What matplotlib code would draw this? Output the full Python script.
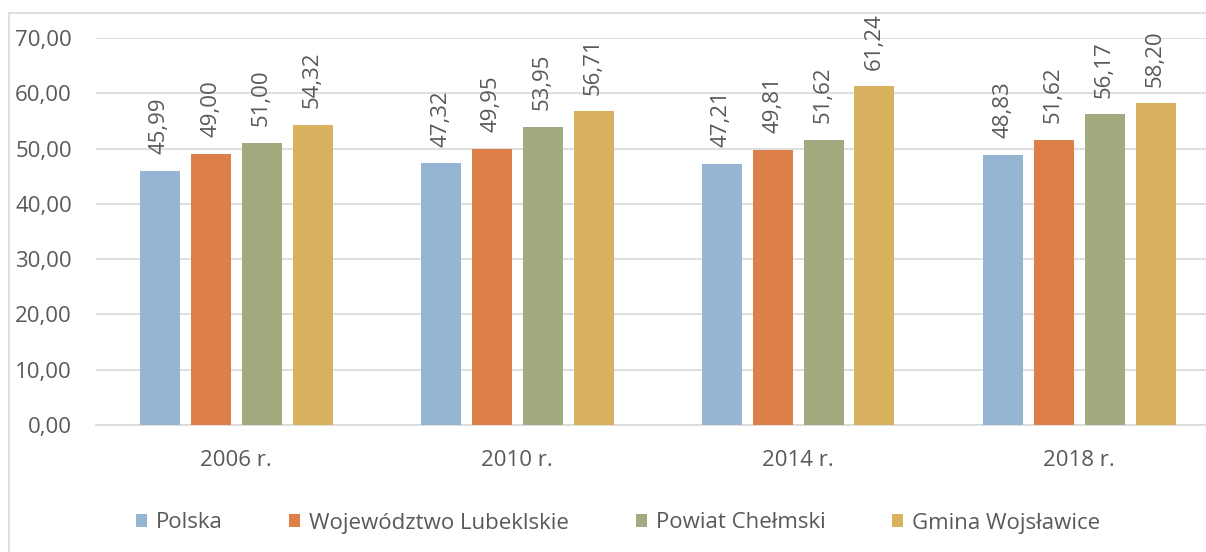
"""
Frekwencja wyborcza - wykres słupkowy
"""

import numpy as np
import matplotlib
matplotlib.use('Agg')
import matplotlib.pyplot as plt
import matplotlib.patches as mpatches

#---------------------------------------------------------------------------------------------------
# Data
#---------------------------------------------------------------------------------------------------

years = ['2006 r.', '2010 r.', '2014 r.', '2018 r.']
series_names = ['Polska', 'Województwo Lubeklskie', 'Powiat Chełmski', 'Gmina Wojsławice']
polska = [45.99, 47.32, 47.21, 48.83]
lubelskie = [49.00, 49.95, 49.81, 51.62]
chelmski = [51.00, 53.95, 51.62, 56.17]
wojslawice = [54.32, 56.71, 61.24, 58.20]
yticks = [0, 10, 20, 30, 40, 50, 60, 70]

colors = ['#95b5d3', '#dd7f48', '#a4aa7f', '#d8b25e']
text_color = '#595959'
grid_color = '#d9d9d9'

#---------------------------------------------------------------------------------------------------
# Plot
#---------------------------------------------------------------------------------------------------

plt.rcParams['font.family'] = ['Open Sans', 'DejaVu Sans']
fontsize = 16

fig = plt.figure(figsize=(12.06, 5.52), dpi=100)

# chart frame (cropped on right and bottom)
W, H = 1206, 552
frame = mpatches.Rectangle((9 / W, -0.1), 1.2, 1 - 13 / H + 0.1, transform=fig.transFigure,
                           fill=False, edgecolor=grid_color, linewidth=1.2)
fig.patches.append(frame)

# axes: x from 95.5 px to 1219.5 px, y from 38 px to 425 px
ax = fig.add_axes([95.5 / W, 1 - 425 / H, (1219.5 - 95.5) / W, (425 - 38) / H])

x = np.arange(len(years))
width = 40 / 281
step = 51 / 281
all_series = [polska, lubelskie, chelmski, wojslawice]
for i, (vals, name, c) in enumerate(zip(all_series, series_names, colors)):
    pos = x + (i - 1.5) * step
    bars = ax.bar(pos, vals, width=width, color=c, label=name, zorder=3)
    for p, v in zip(pos, vals):
        ax.annotate(f"{v:.2f}".replace('.', ','), (p, v), xytext=(0, 12), textcoords='offset points',
                    rotation=90, ha='center', va='bottom', color=text_color, fontsize=fontsize)

ax.set_xlim(-0.5, len(years) - 0.5)
ax.set_ylim(0, 70)
ax.set_yticks(yticks)
ax.set_yticklabels([f"{t:.2f}".replace('.', ',') for t in yticks])
ax.set_xticks(x)
ax.set_xticklabels(years)
ax.tick_params(axis='both', length=0, labelsize=fontsize, labelcolor=text_color)
ax.tick_params(axis='y', pad=17)
ax.tick_params(axis='x', pad=18)

ax.grid(axis='y', color=grid_color, linewidth=1.2, zorder=0)
for s in ['top', 'right', 'left']:
    ax.spines[s].set_visible(False)
ax.spines['bottom'].set_color(grid_color)
ax.spines['bottom'].set_linewidth(1.2)

fig.legend(loc='center', bbox_to_anchor=(618 / W, 1 - 523 / H), ncols=4, frameon=False,
           fontsize=fontsize, labelcolor=text_color, handlelength=0.5, handleheight=0.5,
           handletextpad=0.4, columnspacing=3.0)

plt.savefig('out.png', dpi=100)
plt.close()
